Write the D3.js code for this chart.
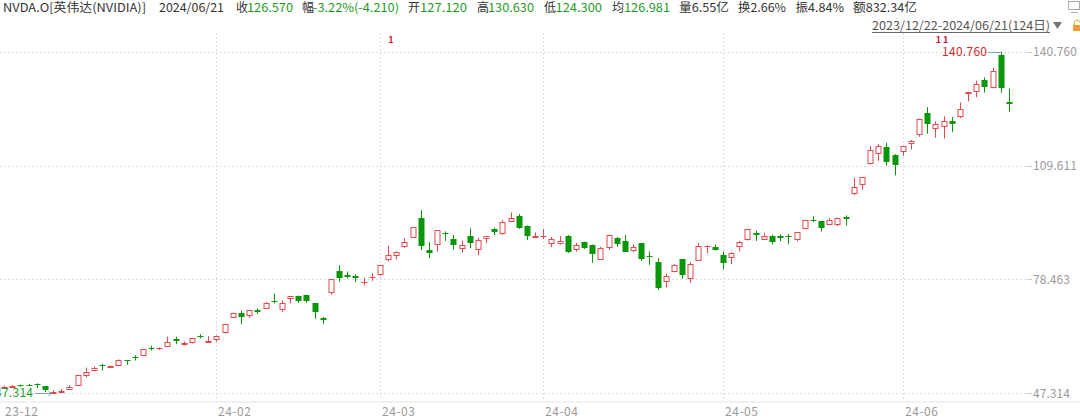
<!DOCTYPE html>
<html><head><meta charset="utf-8">
<script src="https://cdn.jsdelivr.net/npm/d3@7/dist/d3.min.js"></script>
<style>html,body{margin:0;padding:0;background:#fff;overflow:hidden}</style>
</head><body>
<svg id="chart" width="1080" height="420"></svg>
<script>
const dates = ["2023-12-22","2023-12-26","2023-12-27","2023-12-28","2023-12-29",
"2024-01-02","2024-01-03","2024-01-04","2024-01-05","2024-01-08","2024-01-09","2024-01-10","2024-01-11","2024-01-12",
"2024-01-16","2024-01-17","2024-01-18","2024-01-19","2024-01-22","2024-01-23","2024-01-24","2024-01-25","2024-01-26",
"2024-01-29","2024-01-30","2024-01-31",
"2024-02-01","2024-02-02","2024-02-05","2024-02-06","2024-02-07","2024-02-08","2024-02-09","2024-02-12","2024-02-13",
"2024-02-14","2024-02-15","2024-02-16","2024-02-20","2024-02-21","2024-02-22","2024-02-23","2024-02-26","2024-02-27",
"2024-02-28","2024-02-29",
"2024-03-01","2024-03-04","2024-03-05","2024-03-06","2024-03-07","2024-03-08","2024-03-11","2024-03-12","2024-03-13",
"2024-03-14","2024-03-15","2024-03-18","2024-03-19","2024-03-20","2024-03-21","2024-03-22","2024-03-25","2024-03-26",
"2024-03-27","2024-03-28",
"2024-04-01","2024-04-02","2024-04-03","2024-04-04","2024-04-05","2024-04-08","2024-04-09","2024-04-10","2024-04-11",
"2024-04-12","2024-04-15","2024-04-16","2024-04-17","2024-04-18","2024-04-19","2024-04-22","2024-04-23","2024-04-24",
"2024-04-25","2024-04-26","2024-04-29","2024-04-30",
"2024-05-01","2024-05-02","2024-05-03","2024-05-06","2024-05-07","2024-05-08","2024-05-09","2024-05-10","2024-05-13",
"2024-05-14","2024-05-15","2024-05-16","2024-05-17","2024-05-20","2024-05-21","2024-05-22","2024-05-23","2024-05-24",
"2024-05-28","2024-05-29","2024-05-30","2024-05-31",
"2024-06-03","2024-06-04","2024-06-05","2024-06-06","2024-06-07","2024-06-10","2024-06-11","2024-06-12","2024-06-13",
"2024-06-14","2024-06-17","2024-06-18","2024-06-20","2024-06-21"];

const opens = [48.90,48.97,49.51,49.64,49.81,
49.24,47.49,47.77,48.46,49.51,52.40,53.62,55.00,54.62,
55.02,56.37,57.36,57.79,59.81,59.68,60.25,62.27,60.91,
61.23,62.90,61.43,
62.10,63.97,68.26,69.36,68.60,70.21,70.54,72.66,70.40,
73.29,73.88,74.15,71.95,68.04,75.02,80.77,79.74,79.34,
77.64,79.07,
80.00,84.18,85.28,87.70,90.16,95.14,86.45,88.06,91.10,
89.55,86.98,90.36,86.77,89.85,92.28,91.13,94.45,95.85,
93.11,90.00,
90.30,88.44,88.46,90.40,86.90,88.71,88.00,83.92,87.43,
89.70,89.08,86.45,88.37,84.97,83.14,78.10,80.79,83.96,
78.86,83.83,87.50,87.24,
85.08,84.59,87.74,89.40,91.08,89.49,90.44,90.26,90.45,
89.52,92.56,94.85,94.36,93.75,93.57,95.43,102.03,104.45,
110.24,113.05,114.65,112.52,
113.62,115.72,118.37,124.06,119.77,120.37,121.77,123.06,129.39,
129.96,132.99,131.14,139.80,127.12];

const highs = [49.38,49.60,49.68,49.88,50.00,
49.30,48.18,48.50,49.55,52.27,54.33,54.60,55.35,54.97,
56.60,56.43,57.70,59.50,60.33,59.87,62.83,62.79,61.47,
62.48,63.49,62.96,
63.13,66.16,69.40,69.96,70.20,70.52,72.28,74.61,72.73,
73.98,74.06,74.33,71.95,68.19,78.55,82.32,80.63,79.80,
78.95,80.10,
82.35,87.69,86.05,89.70,92.78,97.40,88.70,91.99,91.60,
90.60,89.08,92.42,89.90,90.37,92.62,94.75,96.76,96.37,
93.25,91.29,
92.25,90.08,90.33,90.60,88.46,88.77,88.00,87.40,90.76,
90.10,90.61,88.09,88.46,86.10,84.31,80.06,82.68,84.07,
83.28,88.45,87.79,88.00,
86.08,85.89,89.00,92.18,91.78,91.20,90.70,90.73,90.90,
91.34,94.69,95.71,94.52,95.20,95.39,95.99,106.32,106.48,
114.94,115.49,115.82,112.72,
115.00,116.60,122.45,125.59,121.69,123.10,122.87,126.88,129.80,
132.84,133.73,136.33,140.76,130.63];

const lows = [48.47,48.96,49.09,49.41,48.75,
47.60,47.314,47.51,48.31,49.48,51.70,53.49,53.50,54.33,
54.80,55.11,56.28,57.66,59.01,59.11,60.16,60.74,60.39,
60.92,62.32,61.25,
61.45,63.65,67.90,66.26,67.97,69.04,70.41,71.88,69.57,
71.91,72.08,72.08,67.72,66.22,74.23,77.88,78.67,77.71,
76.80,78.05,
79.44,83.38,83.97,87.10,89.88,86.51,84.30,86.05,89.00,
86.65,85.77,86.97,85.05,88.37,90.59,90.68,94.20,92.30,
89.20,89.79,
89.51,87.32,88.00,85.70,86.07,86.79,83.04,83.77,86.54,
87.36,85.94,85.92,83.51,82.45,75.61,76.23,80.40,78.64,
77.55,83.54,85.70,86.36,
81.25,82.67,86.18,89.09,89.00,89.33,88.00,88.93,88.08,
88.88,92.18,94.16,91.57,93.44,93.03,93.19,101.53,103.00,
109.88,110.90,109.66,106.94,
112.27,114.04,117.47,118.32,117.22,117.01,118.74,122.57,127.16,
128.32,129.58,130.69,129.52,124.30];

const closes = [49.05,49.28,49.42,49.52,49.52,
48.17,47.57,48.00,49.10,52.25,53.14,54.35,54.82,54.70,
56.38,56.05,57.11,59.49,59.61,59.84,61.35,61.62,61.05,
62.46,62.77,61.53,
63.03,66.16,69.34,68.22,70.01,69.63,72.13,72.23,72.13,
73.90,72.62,72.61,69.43,67.45,78.54,78.81,79.07,78.74,
77.66,79.11,
82.28,85.24,85.95,88.70,92.67,87.53,85.76,91.91,90.85,
87.94,87.84,88.45,89.35,90.36,91.44,94.29,95.30,92.56,
90.25,90.36,
90.36,89.45,88.96,85.90,88.00,87.14,85.34,87.04,90.62,
88.13,85.99,87.42,84.04,84.67,76.20,79.51,82.41,79.68,
82.63,87.73,87.74,86.40,
83.04,85.82,88.79,92.14,90.55,90.41,88.75,89.88,90.39,
91.36,94.63,94.36,92.48,94.78,95.39,94.95,103.80,106.47,
113.90,114.83,110.50,109.63,
115.00,116.44,122.44,121.00,120.89,121.79,120.91,125.20,129.61,
131.88,130.98,135.58,130.78,126.57];

const yTickValues = [47.314, 78.463, 109.611, 140.760];
const yTickLabels = ["47.314", "78.463", "109.611", "140.760"];
const monthTickDates = ["2024-02-01", "2024-03-01", "2024-04-01", "2024-05-01", "2024-06-03"];
const monthTickLabels = ["24-02", "24-03", "24-04", "24-05", "24-06"];
const firstTickLabel = "23-12";

const headerItems = [
  {t:"NVDA.O[英伟达(NVIDIA)]", x:3, w:143, c:"#333"},
  {t:"2024/06/21", x:159, w:65, c:"#333"},
  {t:"收", x:236, c:"#333"}, {t:"126.570", x:247, w:46, c:"g"},
  {t:"幅", x:302, c:"#333"}, {t:"-3.22%(-4.210)", x:313, w:86, c:"g"},
  {t:"开", x:408, c:"#333"}, {t:"127.120", x:420, w:47, c:"g"},
  {t:"高", x:477, c:"#333"}, {t:"130.630", x:488, w:46, c:"g"},
  {t:"低", x:544, c:"#333"}, {t:"124.300", x:555.5, w:46.5, c:"g"},
  {t:"均", x:612, c:"#333"}, {t:"126.981", x:624, w:46, c:"g"},
  {t:"量6.55亿", x:679, w:50, c:"#333"},
  {t:"换2.66%", x:738, w:48, c:"#333"},
  {t:"振4.84%", x:795.5, w:48.5, c:"#333"},
  {t:"额832.34亿", x:853, w:64, c:"#333"}
];
const rangeLabel = "2023/12/22-2024/06/21(124日)";

const UP = "#e5484d", DOWN = "#0a960a", VGREEN = "#1e9a1e";
const font = '"Noto Sans CJK SC","Microsoft YaHei","Noto Sans",sans-serif';
const svg = d3.select("#chart").style("font-family", font);

const x = d3.scaleBand().domain(dates).range([0, 1013]).paddingInner(0.32).paddingOuter(0.16);
const y = d3.scaleLinear().domain([47.314, 140.76]).range([393.3, 51.7]);
const cx = d => Math.round(x(d) + x.bandwidth() / 2) + 0.5;

// grid
const grid = svg.append("g");
grid.selectAll("line.h").data(yTickValues).join("line")
  .attr("x1", 0).attr("x2", 1027)
  .attr("y1", d => Math.round(y(d)) + 0.5).attr("y2", d => Math.round(y(d)) + 0.5)
  .attr("stroke", "#dedede").attr("stroke-dasharray", "2,2");
grid.selectAll("line.t").data(yTickValues).join("line")
  .attr("x1", 1027).attr("x2", 1032)
  .attr("y1", d => Math.round(y(d)) + 0.5).attr("y2", d => Math.round(y(d)) + 0.5)
  .attr("stroke", "#c8c8c8");
grid.selectAll("line.v").data(monthTickDates).join("line")
  .attr("x1", d => cx(d)).attr("x2", d => cx(d))
  .attr("y1", 33).attr("y2", 402)
  .attr("stroke", "#dedede").attr("stroke-dasharray", "2,2");
svg.append("rect").attr("x", 0).attr("y", 401).attr("width", 1080).attr("height", 2).attr("fill", "#f1f1f1");

// y labels
svg.append("g").selectAll("text").data(yTickValues).join("text")
  .attr("x", 1033).attr("y", d => y(d)).attr("dy", "0.35em")
  .attr("font-size", 12).attr("fill", "#999")
  .attr("textLength", (d, i) => yTickLabels[i].length === 7 ? 44 : 37)
  .text((d, i) => yTickLabels[i]);

// x labels
const xl = svg.append("g").attr("font-size", 12).attr("fill", "#999");
xl.append("text").attr("x", 5).attr("y", 412).attr("dy", "0.35em").attr("textLength", 33).text(firstTickLabel);
xl.selectAll("text.m").data(monthTickDates).join("text")
  .attr("x", d => cx(d) + 1.5).attr("y", 412).attr("dy", "0.35em").attr("textLength", 33)
  .text((d, i) => monthTickLabels[i]);

// candles
const data = dates.map((d, i) => ({d, o: opens[i], h: highs[i], l: lows[i], c: closes[i]}));
const cg = svg.append("g");
data.forEach(k => {
  const X = cx(k.d);
  const up = k.c >= k.o;
  const top = y(Math.max(k.o, k.c)), bot = y(Math.min(k.o, k.c));
  if (up) {
    const t = Math.round(top) + 0.5, b = Math.max(Math.round(bot) + 0.5, t);
    cg.append("line").attr("x1", X).attr("x2", X).attr("y1", y(k.h)).attr("y2", t).attr("stroke", UP);
    cg.append("line").attr("x1", X).attr("x2", X).attr("y1", b).attr("y2", y(k.l)).attr("stroke", UP);
    if (b - t < 1) {
      cg.append("line").attr("x1", X - 3).attr("x2", X + 3).attr("y1", t).attr("y2", t).attr("stroke", UP);
    } else {
      cg.append("rect").attr("x", X - 2.5).attr("y", t).attr("width", 5).attr("height", b - t)
        .attr("fill", "#fff").attr("stroke", UP);
    }
  } else {
    cg.append("line").attr("x1", X).attr("x2", X).attr("y1", y(k.h)).attr("y2", y(k.l)).attr("stroke", DOWN);
    const t = Math.round(top), hgt = Math.max(1, Math.round(bot) - t);
    cg.append("rect").attr("x", X - 3).attr("y", t).attr("width", 6).attr("height", hgt).attr("fill", DOWN);
  }
});

// extreme annotations
const maxI = d3.maxIndex(highs), minI = d3.minIndex(lows);
const yMax = y(highs[maxI]), yMin = y(lows[minI]);
svg.append("text").attr("x", 987).attr("y", yMax + 0.5).attr("dy", "0.35em").attr("text-anchor", "end")
  .attr("font-size", 12).attr("fill", "#d42a2a").attr("textLength", 45).text(highs[maxI].toFixed(3));
svg.append("path").attr("d", `M988,${Math.round(yMax)+0.5}H${cx(dates[maxI]) - 1}l2,2`)
  .attr("fill", "none").attr("stroke", "#7aa9bb");
svg.append("text").attr("x", 33).attr("y", yMin - 0.5).attr("dy", "0.35em").attr("text-anchor", "end")
  .attr("font-size", 12).attr("fill", VGREEN).attr("textLength", 38).text(lows[minI].toFixed(3));
svg.append("path").attr("d", `M35,${Math.round(yMin)+0.5}H${cx(dates[minI]) - 2}m-3,-2l3,2l-3,2`)
  .attr("fill", "none").attr("stroke", "#7f9fb0");

// red info markers
[[391, "1"], [943, "11"]].forEach(([mx, t]) => {
  svg.append("text").attr("x", mx).attr("y", 42.5).attr("text-anchor", "middle")
    .attr("font-size", 9).attr("font-weight", "bold").attr("fill", "#d4143c")
    .attr("letter-spacing", t.length > 1 ? 2 : 0).text(t);
});

// header
const hg = svg.append("g").attr("font-size", 12);
headerItems.forEach(it => {
  const t = hg.append("text").attr("x", it.x).attr("y", 7.5).attr("dy", "0.35em")
    .attr("fill", it.c === "g" ? VGREEN : it.c).text(it.t);
  if (it.w) t.attr("textLength", it.w).attr("lengthAdjust", "spacingAndGlyphs");
});
svg.append("text").attr("x", 872).attr("y", 26).attr("dy", "0.35em").attr("font-size", 12)
  .attr("fill", "#555").attr("textLength", 178).attr("lengthAdjust", "spacingAndGlyphs").text(rangeLabel);
svg.append("line").attr("x1", 872).attr("x2", 1050).attr("y1", 32.5).attr("y2", 32.5).attr("stroke", "#666");
svg.append("path").attr("d", "M1053,22L1062,22L1057.5,29Z").attr("fill", "#777");
// lock icon
svg.append("rect").attr("x", 1073).attr("y", 25).attr("width", 7).attr("height", 6).attr("fill", "#f0a030");
svg.append("path").attr("d", "M1074.5,25V22.5a2.5,2.5 0 0 1 5,0").attr("fill", "none").attr("stroke", "#e0a040");
// monitor icon
svg.append("rect").attr("x", 1068.5).attr("y", 1.5).attr("width", 11).attr("height", 8).attr("fill", "none").attr("stroke", "#aaa");
svg.append("line").attr("x1", 1071).attr("x2", 1078).attr("y1", 12.5).attr("y2", 12.5).attr("stroke", "#aaa");
</script>
</body></html>
